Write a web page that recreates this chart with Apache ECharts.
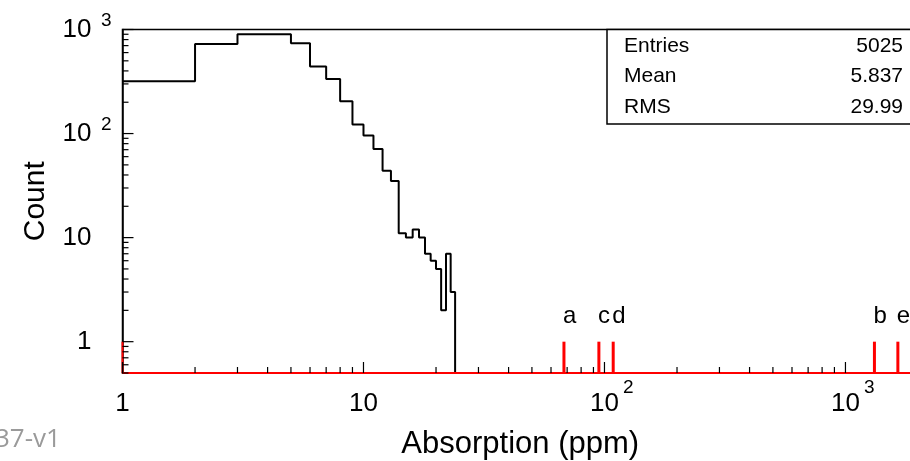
<!DOCTYPE html>
<html><head><meta charset="utf-8">
<script src="https://cdn.jsdelivr.net/npm/echarts@6/dist/echarts.min.js"></script>
<style>html,body{margin:0;padding:0;background:#fff}#c{width:910px;height:461px}</style>
</head><body><div id="c"></div>
<script>
// ---- data ----
const binEdges = [1,2,3,4,5,6,7,8,9,10,11,12,13,14,15,16,17,18,19,20,21,22,23,24];
const counts   = [318,724,898,898,736,440,334,204,122,96,71,44,35,11,10,12,10,7,6,5,2,7,3];
const spikeX      = [1, 67.9, 94.8, 108.7, 1319, 1650];
const spikeCount  = [1, 1, 1, 1, 1, 1];
const spikeLabels = ['', 'a', 'c', 'd', 'b', 'e'];
const xTickValues = [1, 10, 100, 1000];
const xTickBase   = ['1', '10', '10', '10'];
const xTickSup    = ['', '', '2', '3'];
const yTickValues = [1, 10, 100, 1000];
const yTickBase   = ['1', '10', '10', '10'];
const yTickSup    = ['', '', '2', '3'];
const statNames  = ['Entries', 'Mean', 'RMS'];
const statValues = ['5025', '5.837', '29.99'];
const xTitle = 'Absorption (ppm)';
const yTitle = 'Count';
const cornerNote = '37-v1';

// ---- layout / style ----
const X_MIN = 1, X_MAX = 2000, Y_MIN = 0.5, Y_MAX = 1000;
const F = '"Liberation Sans", Arial, Helvetica, sans-serif';
const SUP_FONT = '19px ' + F;

function findTick(vals, v) {
  for (let i = 0; i < vals.length; i++) {
    if (Math.abs(Math.log10(v) - Math.log10(vals[i])) < 1e-6) return i;
  }
  return -1;
}
const baseRich = {
  n: {fontSize: 26, lineHeight: 26, fontFamily: F, color: '#000'},
  pad: {width: 20}
};

const histPts = counts.map((c, i) => [binEdges[i], c]);
histPts.push([binEdges[binEdges.length - 1], Y_MIN]);

// superscript exponents of the axis labels, drawn next to the "10" at the axis scale position
const supItems = [];
xTickValues.forEach((v, i) => { if (xTickSup[i]) supItems.push([v, Y_MIN, 0, i]); });
yTickValues.forEach((v, i) => { if (yTickSup[i]) supItems.push([X_MIN, v, 1, i]); });

const chart = echarts.init(document.getElementById('c'), null, {renderer: 'canvas'});
chart.setOption({
  animation: false,
  backgroundColor: '#fff',
  grid: {left: 122.5, top: 29.5, width: 795.5, height: 343.5, show: true,
         containLabel: false, outerBoundsMode: 'none',
         borderColor: '#000', borderWidth: 1.5, backgroundColor: 'transparent'},
  xAxis: {
    type: 'log', logBase: 10, min: X_MIN, max: X_MAX,
    axisLine: {show: true, lineStyle: {color: '#000', width: 1.5}},
    axisTick: {show: false}, splitLine: {show: false}, minorTick: {show: false},
    axisLabel: {
      margin: 18, showMinLabel: true, showMaxLabel: true, hideOverlap: false,
      formatter: function (v) {
        const i = findTick(xTickValues, v);
        if (i < 0) return '';
        return '{n|' + xTickBase[i] + '}';
      },
      rich: baseRich
    },
    name: xTitle, nameLocation: 'middle', nameGap: 56,
    nameTextStyle: {fontSize: 31, fontFamily: F, color: '#000'}
  },
  yAxis: {
    type: 'log', logBase: 10, min: Y_MIN, max: Y_MAX,
    axisLine: {show: true, lineStyle: {color: '#000', width: 1.5}},
    axisTick: {show: false}, splitLine: {show: false}, minorTick: {show: false},
    axisLabel: {
      margin: 11, showMinLabel: true, showMaxLabel: true, hideOverlap: false,
      formatter: function (v) {
        const i = findTick(yTickValues, v);
        if (i < 0) return '';
        return '{n|' + yTickBase[i] + '}{pad|}';
      },
      rich: baseRich
    },
    name: yTitle, nameLocation: 'middle', nameGap: 72,
    nameTextStyle: {fontSize: 30, fontFamily: F, color: '#000'}
  },
  series: [
    {
      type: 'line', data: histPts, step: 'end', symbol: 'none', z: 3,
      lineStyle: {color: '#000', width: 2}, clip: true
    },
    {
      // red histogram baseline (empty bins sit on the axis minimum)
      type: 'custom', coordinateSystem: 'cartesian2d', data: [[X_MIN, Y_MIN]], silent: true, z: 4,
      renderItem: function (params, api) {
        const a = api.coord([X_MIN, Y_MIN]);
        const b = api.coord([X_MAX, Y_MIN]);
        return {type: 'line', shape: {x1: a[0], y1: a[1], x2: b[0], y2: b[1]},
                style: {stroke: '#ff0000', lineWidth: 2}};
      }
    },
    {
      type: 'custom', coordinateSystem: 'cartesian2d', silent: true, z: 5,
      data: spikeX.map((x, i) => [x, spikeCount[i], i]),
      renderItem: function (params, api) {
        const x = api.value(0), y = api.value(1), idx = api.value(2);
        const p0 = api.coord([x, Y_MIN]);
        const p1 = api.coord([x, y]);
        const ch = [{type: 'line', shape: {x1: p0[0], y1: p0[1], x2: p1[0], y2: p1[1]},
                     style: {stroke: '#ff0000', lineWidth: idx === 0 ? 2 : 3}}];
        if (spikeLabels[idx]) {
          ch.push({type: 'text', style: {text: spikeLabels[idx], x: p1[0] - 1, y: p1[1] - 13,
                   align: 'left', verticalAlign: 'bottom', fill: '#000',
                   font: '24px ' + F}});
        }
        return {type: 'group', children: ch};
      }
    },
    {
      // axis tick marks (ROOT style: inside, log minor ticks)
      type: 'custom', coordinateSystem: 'cartesian2d', data: [[X_MIN, Y_MIN]], silent: true, z: 6,
      renderItem: function (params, api) {
        const ch = [];
        for (let n = 0; n <= 3; n++) {
          for (let k = 1; k <= 9; k++) {
            const v = k * Math.pow(10, n);
            if (v > X_MAX) break;
            const p = api.coord([v, Y_MIN]);
            const len = k === 1 ? 11 : 6;
            ch.push({type: 'line', shape: {x1: p[0], y1: p[1], x2: p[0], y2: p[1] - len},
                     style: {stroke: '#000', lineWidth: 1.2}});
          }
        }
        for (let n = -1; n <= 3; n++) {
          for (let k = 1; k <= 9; k++) {
            const v = k * Math.pow(10, n);
            if (v < Y_MIN - 1e-9 || v > Y_MAX + 1e-9) continue;
            const p = api.coord([X_MIN, v]);
            const len = k === 1 ? 11 : 6;
            ch.push({type: 'line', shape: {x1: p[0], y1: p[1], x2: p[0] + len, y2: p[1]},
                     style: {stroke: '#000', lineWidth: 1.2}});
          }
        }
        return {type: 'group', children: ch};
      }
    },
    {
      // exponents of the "10^n" tick labels
      type: 'custom', coordinateSystem: 'cartesian2d', silent: true, z: 7, clip: false,
      data: supItems,
      renderItem: function (params, api) {
        const axis = api.value(2), i = api.value(3);
        const p = api.coord([api.value(0), api.value(1)]);
        if (axis === 0) {
          return {type: 'text', style: {text: xTickSup[i], x: p[0] + 18.5, y: p[1] + 15,
                  align: 'left', verticalAlign: 'middle', font: SUP_FONT, fill: '#000'}};
        }
        return {type: 'text', style: {text: yTickSup[i], x: p[0] - 11, y: p[1] - 8.5,
                align: 'right', verticalAlign: 'middle', font: SUP_FONT, fill: '#000'}};
      }
    }
  ],
  graphic: [
    {type: 'rect', z: 100, shape: {x: 607, y: 29.5, width: 400, height: 94.5},
     style: {fill: '#fff', stroke: '#000', lineWidth: 1.5}},
    ...statNames.map((s, i) => ({type: 'text', z: 101, x: 624, y: 46 + i * 30.5,
      style: {text: s, font: '21px ' + F, fill: '#000', align: 'left', verticalAlign: 'middle'}})),
    ...statValues.map((s, i) => ({type: 'text', z: 101, x: 903, y: 46 + i * 30.5,
      style: {text: s, font: '21px ' + F, fill: '#000', align: 'right', verticalAlign: 'middle'}})),
    {type: 'text', z: 101, x: -5, y: 440,
     style: {text: cornerNote, font: '26px "Open Sans", sans-serif', fill: '#9a9a9a', align: 'left', verticalAlign: 'middle'}}
  ]
});
</script></body></html>
